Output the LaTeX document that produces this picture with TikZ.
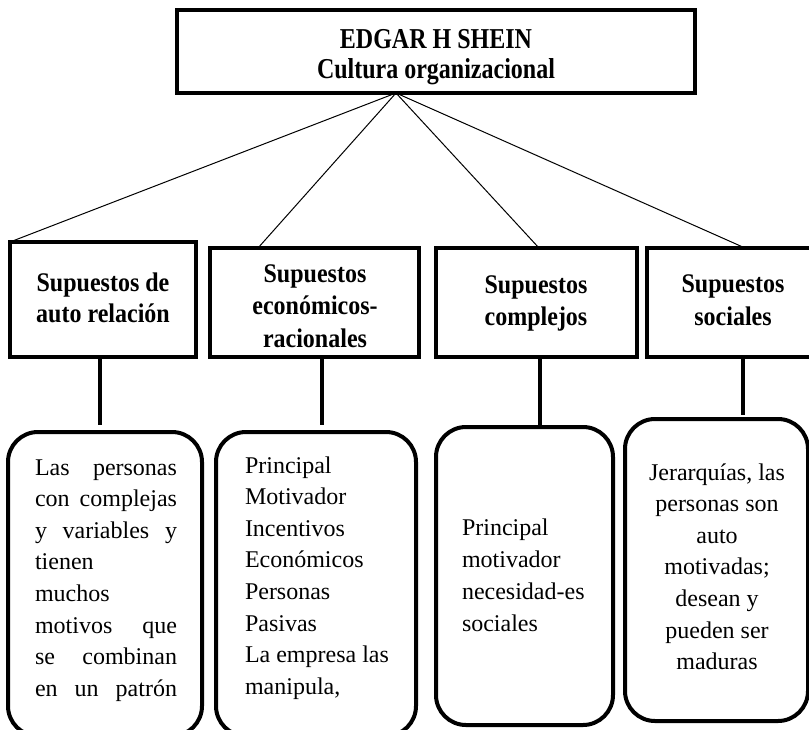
\documentclass[tikz,border=0pt]{standalone}
\usepackage{graphicx}
\usepackage{fontspec}
\setmainfont{Liberation Serif}
\newcommand{\myvs}[2]{\scalebox{1}[#1]{#2}}
\begin{document}
\begin{tikzpicture}[x=1pt,y=-1pt,
  box/.style={draw, line width=4pt, inner sep=0pt, outer sep=0pt, anchor=north west, line join=miter},
  rbox/.style={box, rounded corners=30pt},
  thinline/.style={line width=1pt},
  vconn/.style={line width=4pt},
  lbl/.style={inner sep=0pt, outer sep=0pt, anchor=base},
  lblw/.style={inner sep=0pt, outer sep=0pt, anchor=base west}]
\useasboundingbox (0,0) rectangle (809,729);
\clip (0,0) rectangle (809,729);
% title box
\node[box, minimum width=518pt, minimum height=83pt] (top) at (177,10) {};
% header boxes
\node[box, minimum width=186pt, minimum height=115pt] (h1) at (10,242) {};
\node[box, minimum width=209pt, minimum height=109pt] (h2) at (210,248) {};
\node[box, minimum width=201pt, minimum height=109pt] (h3) at (436,248) {};
\node[box, minimum width=171pt, minimum height=109pt] (h4) at (647,248) {};
% rounded boxes
\node[rbox, minimum width=194pt, minimum height=304pt] (rA) at (8,432) {};
\node[rbox, minimum width=200pt, minimum height=304pt] (rB) at (216,432) {};
\node[rbox, minimum width=177pt, minimum height=298pt] (rC) at (436,427) {};
\node[rbox, minimum width=183pt, minimum height=302pt] (rD) at (625,419) {};
% texts
\node[lbl] (tT) at (436,48) {\parbox[t]{500pt}{\centering\fontsize{24}{30}\selectfont\bfseries \myvs{1.2}{EDGAR H SHEIN}\\ \myvs{1.2}{Cultura organizacional}}};
\node[lbl] (t1) at (103,291) {\parbox[t]{180pt}{\centering\fontsize{24}{31.5}\selectfont\bfseries \myvs{1.12}{Supuestos de}\\ \myvs{1.12}{auto relación}}};
\node[lbl] (t2) at (315,282) {\parbox[t]{200pt}{\centering\fontsize{24}{32.5}\selectfont\bfseries \myvs{1.12}{Supuestos}\\ \myvs{1.12}{económicos-}\\ \myvs{1.12}{racionales}}};
\node[lbl] (t3) at (536,293) {\parbox[t]{190pt}{\centering\fontsize{24}{32}\selectfont\bfseries \myvs{1.12}{Supuestos}\\ \myvs{1.12}{complejos}}};
\node[lbl] (t4) at (733,292) {\parbox[t]{160pt}{\centering\fontsize{24}{33}\selectfont\bfseries \myvs{1.12}{Supuestos}\\ \myvs{1.12}{sociales}}};
\node[lblw] (tA) at (35,475) {\parbox[t]{142pt}{\fontsize{24}{31.6}\selectfont
  Las\hfill personas\\ con\hfill complejas\\ y\hfill variables\hfill y\\ tienen\\ muchos\\ motivos\hfill que\\ se\hfill combinan\\ en\hfill un\hfill patrón}};
\node[lblw] (tB) at (245,473) {\parbox[t]{165pt}{\fontsize{24}{31.6}\selectfont
  Principal\\ Motivador\\ Incentivos\\ Económicos\\ Personas\\ Pasivas\\ La empresa las\\ manipula,}};
\node[lblw] (tC) at (462,535) {\parbox[t]{145pt}{\fontsize{24}{32}\selectfont
  Principal\\ motivador\\ necesidad-es\\ sociales}};
\node[lbl] (tD) at (717,480) {\parbox[t]{180pt}{\centering\fontsize{24}{31.6}\selectfont
  Jerarquías, las\\ personas son\\ auto\\ motivadas;\\ desean y\\ pueden ser\\ maduras}};
% connectors
\coordinate (apex) at ([xshift=219pt]top.south west);
\draw[thinline] (apex) -- (h1.north west);
\draw[thinline] (apex) -- ([xshift=48pt]h2.north west);
\draw[thinline] (apex) -- ([xshift=103pt]h3.north west);
\draw[thinline] (apex) -- ([xshift=98pt]h4.north west);
\coordinate (v1) at ([xshift=90pt]h1.south west);
\coordinate (v2) at ([xshift=112pt]h2.south west);
\coordinate (v3) at ([xshift=104pt]h3.south west);
\coordinate (v4) at ([xshift=96pt]h4.south west);
\draw[vconn, shorten >=7pt] (v1) -- (v1 |- rA.north);
\draw[vconn, shorten >=7pt] (v2) -- (v2 |- rB.north);
\draw[vconn, shorten >=2pt] (v3) -- (v3 |- rC.north);
\draw[vconn, shorten >=4pt] (v4) -- (v4 |- rD.north);
\end{tikzpicture}
\end{document}
